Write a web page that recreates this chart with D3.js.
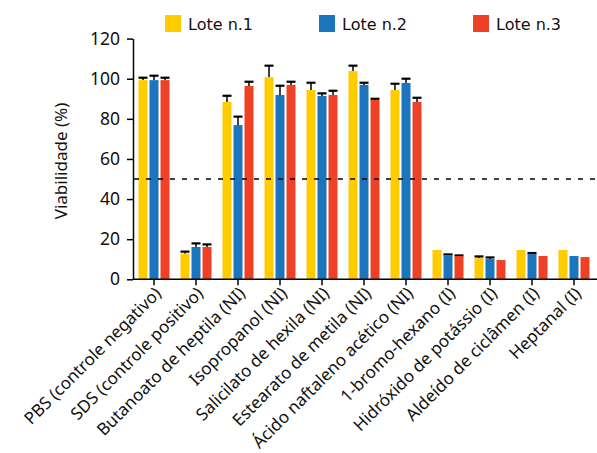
<!DOCTYPE html>
<html><head><meta charset="utf-8">
<script src="https://cdn.jsdelivr.net/npm/d3@7"></script>
<style>body{margin:0;background:#fff}svg{display:block}</style>
</head><body>
<script>
const categories = ["PBS (controle negativo)","SDS (controle positivo)","Butanoato de heptila (NI)","Isopropanol (NI)","Salicilato de hexila (NI)","Estearato de metila (NI)","Ácido naftaleno acético (NI)","1-bromo-hexano (I)","Hidróxido de potássio (I)","Aldeído de ciclâmen (I)","Heptanal (I)"];
const seriesNames = ["Lote n.1","Lote n.2","Lote n.3"];
const lote1 = [99.3,12.8,88.4,100.8,94.4,103.8,94.4,14.6,10.6,14.6,14.6];
const lote2 = [99.3,16.1,76.9,91.9,91.4,96.9,97.9,12.1,10.1,12.6,11.6];
const lote3 = [99.3,16.1,96.4,96.9,91.9,89.4,88.4,11.6,9.6,11.6,11.1];
const err1 = [1.2,1.0,3.1,5.7,3.6,2.7,3.1,0,0.8,0,0];
const err2 = [2.2,1.8,4.2,4.6,1.3,1.1,2.1,0.3,0.8,0.5,0];
const err3 = [1.2,1.3,2.1,1.6,2.1,0.6,2.1,0.3,0,0,0];
const yTicks = [0,20,40,60,80,100,120];
const threshold = 50;
const colors = ["#FFCC00","#1A75BC","#EE4125"];

const W=597,H=453;
const svg=d3.select("body").append("svg").attr("width",W).attr("height",H);
const font="'Noto Sans', sans-serif";
const x=d3.scaleBand().domain(categories).range([133,595]);
const x1=d3.scaleBand().domain(seriesNames).range([-15.5,15.5]).paddingInner(2/11);
const y=d3.scaleLinear().domain([0,120]).range([279.3,38.6]);

const vals=[lote1,lote2,lote3], errs=[err1,err2,err3];
const data=[];
categories.forEach((c,i)=>seriesNames.forEach((s,j)=>data.push({c,s,j,v:vals[j][i],e:errs[j][i]})));

// error bars
const eg=svg.append("g");
data.forEach(d=>{
  if(d.e<=0) return;
  const cx=x(d.c)+x.bandwidth()/2+x1(d.s)+x1.bandwidth()/2;
  eg.append("line").attr("x1",cx).attr("x2",cx).attr("y1",y(d.v)).attr("y2",y(d.v+d.e)).attr("stroke","#000").attr("stroke-width",1.5);
  eg.append("line").attr("x1",cx-4.5).attr("x2",cx+4.5).attr("y1",y(d.v+d.e)).attr("y2",y(d.v+d.e)).attr("stroke","#000").attr("stroke-width",2.2);
});
// bars
svg.append("g").selectAll("rect").data(data).join("rect")
  .attr("x",d=>x(d.c)+x.bandwidth()/2+x1(d.s))
  .attr("width",x1.bandwidth())
  .attr("y",d=>y(d.v)).attr("height",d=>y(0)-y(d.v))
  .attr("fill",d=>colors[d.j]);

// threshold
svg.append("line").attr("x1",134).attr("x2",597).attr("y1",y(threshold)).attr("y2",y(threshold))
  .attr("stroke","#000").attr("stroke-width",1.3).attr("stroke-dasharray","5,7");

// y axis
const ya=svg.append("g").attr("transform","translate(133,0)")
  .call(d3.axisLeft(y).tickValues(yTicks).tickSize(6).tickPadding(7).tickSizeOuter(0));
ya.select(".domain").attr("stroke","#000").attr("stroke-width",1.5);
ya.selectAll(".tick line").attr("stroke","#000").attr("stroke-width",1.5);
ya.selectAll("text").attr("font-family",font).attr("font-size",17.5).attr("fill","#111");

// x axis
const xa=svg.append("g").attr("transform","translate(0,279.3)")
  .call(d3.axisBottom(x).tickSize(6).tickSizeOuter(0).tickFormat(""));
xa.select(".domain").attr("stroke","#000").attr("stroke-width",1.5).attr("d","M133,0H597");
xa.selectAll(".tick line").attr("stroke","#000").attr("stroke-width",1.5);
xa.selectAll(".tick").append("text")
  .attr("transform","translate(4,11) rotate(-45)")
  .attr("text-anchor","end").attr("dy","0.35em")
  .attr("font-family",font).attr("font-size",17).attr("fill","#111")
  .text(d=>d);

// y label
svg.append("text").attr("transform","translate(61,161) rotate(-90)")
  .attr("text-anchor","middle").attr("dy","0.35em")
  .attr("font-family",font).attr("font-size",17).attr("fill","#111")
  .text("Viabilidade (%)");

// legend
const lx=[165,319,473];
const lg=svg.append("g");
seriesNames.forEach((s,j)=>{
  lg.append("rect").attr("x",lx[j]).attr("y",15).attr("width",16).attr("height",17).attr("fill",colors[j]);
  lg.append("text").attr("x",lx[j]+23).attr("y",24).attr("dy","0.35em")
    .attr("font-family","'DejaVu Sans', sans-serif").attr("font-size",16).attr("fill","#111").text(s);
});
</script>
</body></html>
